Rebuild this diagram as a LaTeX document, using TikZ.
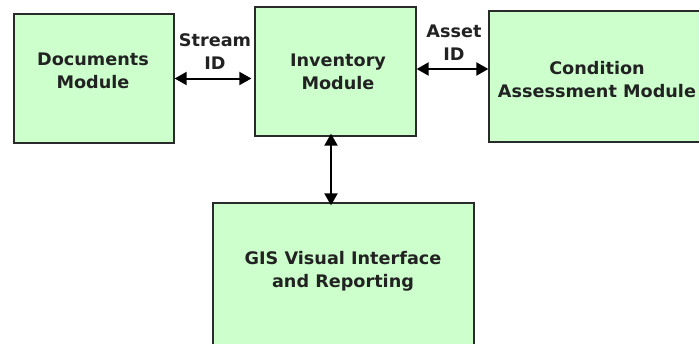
\documentclass[tikz,border=0pt]{standalone}
\usepackage{fontspec}
\setmainfont{DejaVu Sans}[BoldFeatures={FakeStretch=1.02}]
\usetikzlibrary{arrows.meta}
\definecolor{boxfill}{HTML}{CCFFCC}
\definecolor{boxline}{HTML}{2A2A2A}
\definecolor{txt}{HTML}{222222}
\tikzset{
  module/.style={draw=boxline, fill=boxfill, line width=1.3pt, inner sep=0pt},
  lbl/.style={font=\fontsize{17.3}{23}\selectfont\bfseries, text=txt, align=center, inner sep=0pt},
  link/.style={line width=2pt, draw=black, {Triangle[length=12pt,width=13pt]}-{Triangle[length=12pt,width=13pt]}}
}
\begin{document}
\begin{tikzpicture}[x=1pt,y=-1pt]
\useasboundingbox (0,0) rectangle (699,343);
\clip (0,0) rectangle (699,343);
\fill[white] (0,0) rectangle (699,343);
\node[module, minimum width=160pt, minimum height=129pt] (docs) at (94,78.5) {};
\node[module, minimum width=161pt, minimum height=129pt] (inv) at (335.5,71.5) {};
\node[module, minimum width=228pt, minimum height=131pt] (cond) at (603,76.5) {};
\node[module, minimum width=261pt, minimum height=150pt] (gis) at (343.5,278) {};
\node[lbl] (tdocs) at (93,71) {Documents\\Module};
\node[lbl] (tinv) at (338,72) {Inventory\\Module};
\node[lbl] (tcond) at (597,79.5) {Condition\\Assessment Module};
\node[lbl] (tgis) at (343,271) {GIS Visual Interface\\and Reporting};
\node[lbl] (tstream) at (215,52) {Stream\\ID};
\node[lbl] (tasset) at (454,43) {Asset\\ID};
\draw[link] (docs.east) -- ([xshift=-3pt]docs.east -| inv.west);
\draw[link] ([yshift=2.5pt]inv.east) -- ([yshift=2.5pt]inv.east -| cond.west);
\draw[link] ([xshift=-4.5pt,yshift=3pt]inv.south) -- ([xshift=-4.5pt,yshift=-3pt]inv.south |- gis.north);
\end{tikzpicture}
\end{document}
